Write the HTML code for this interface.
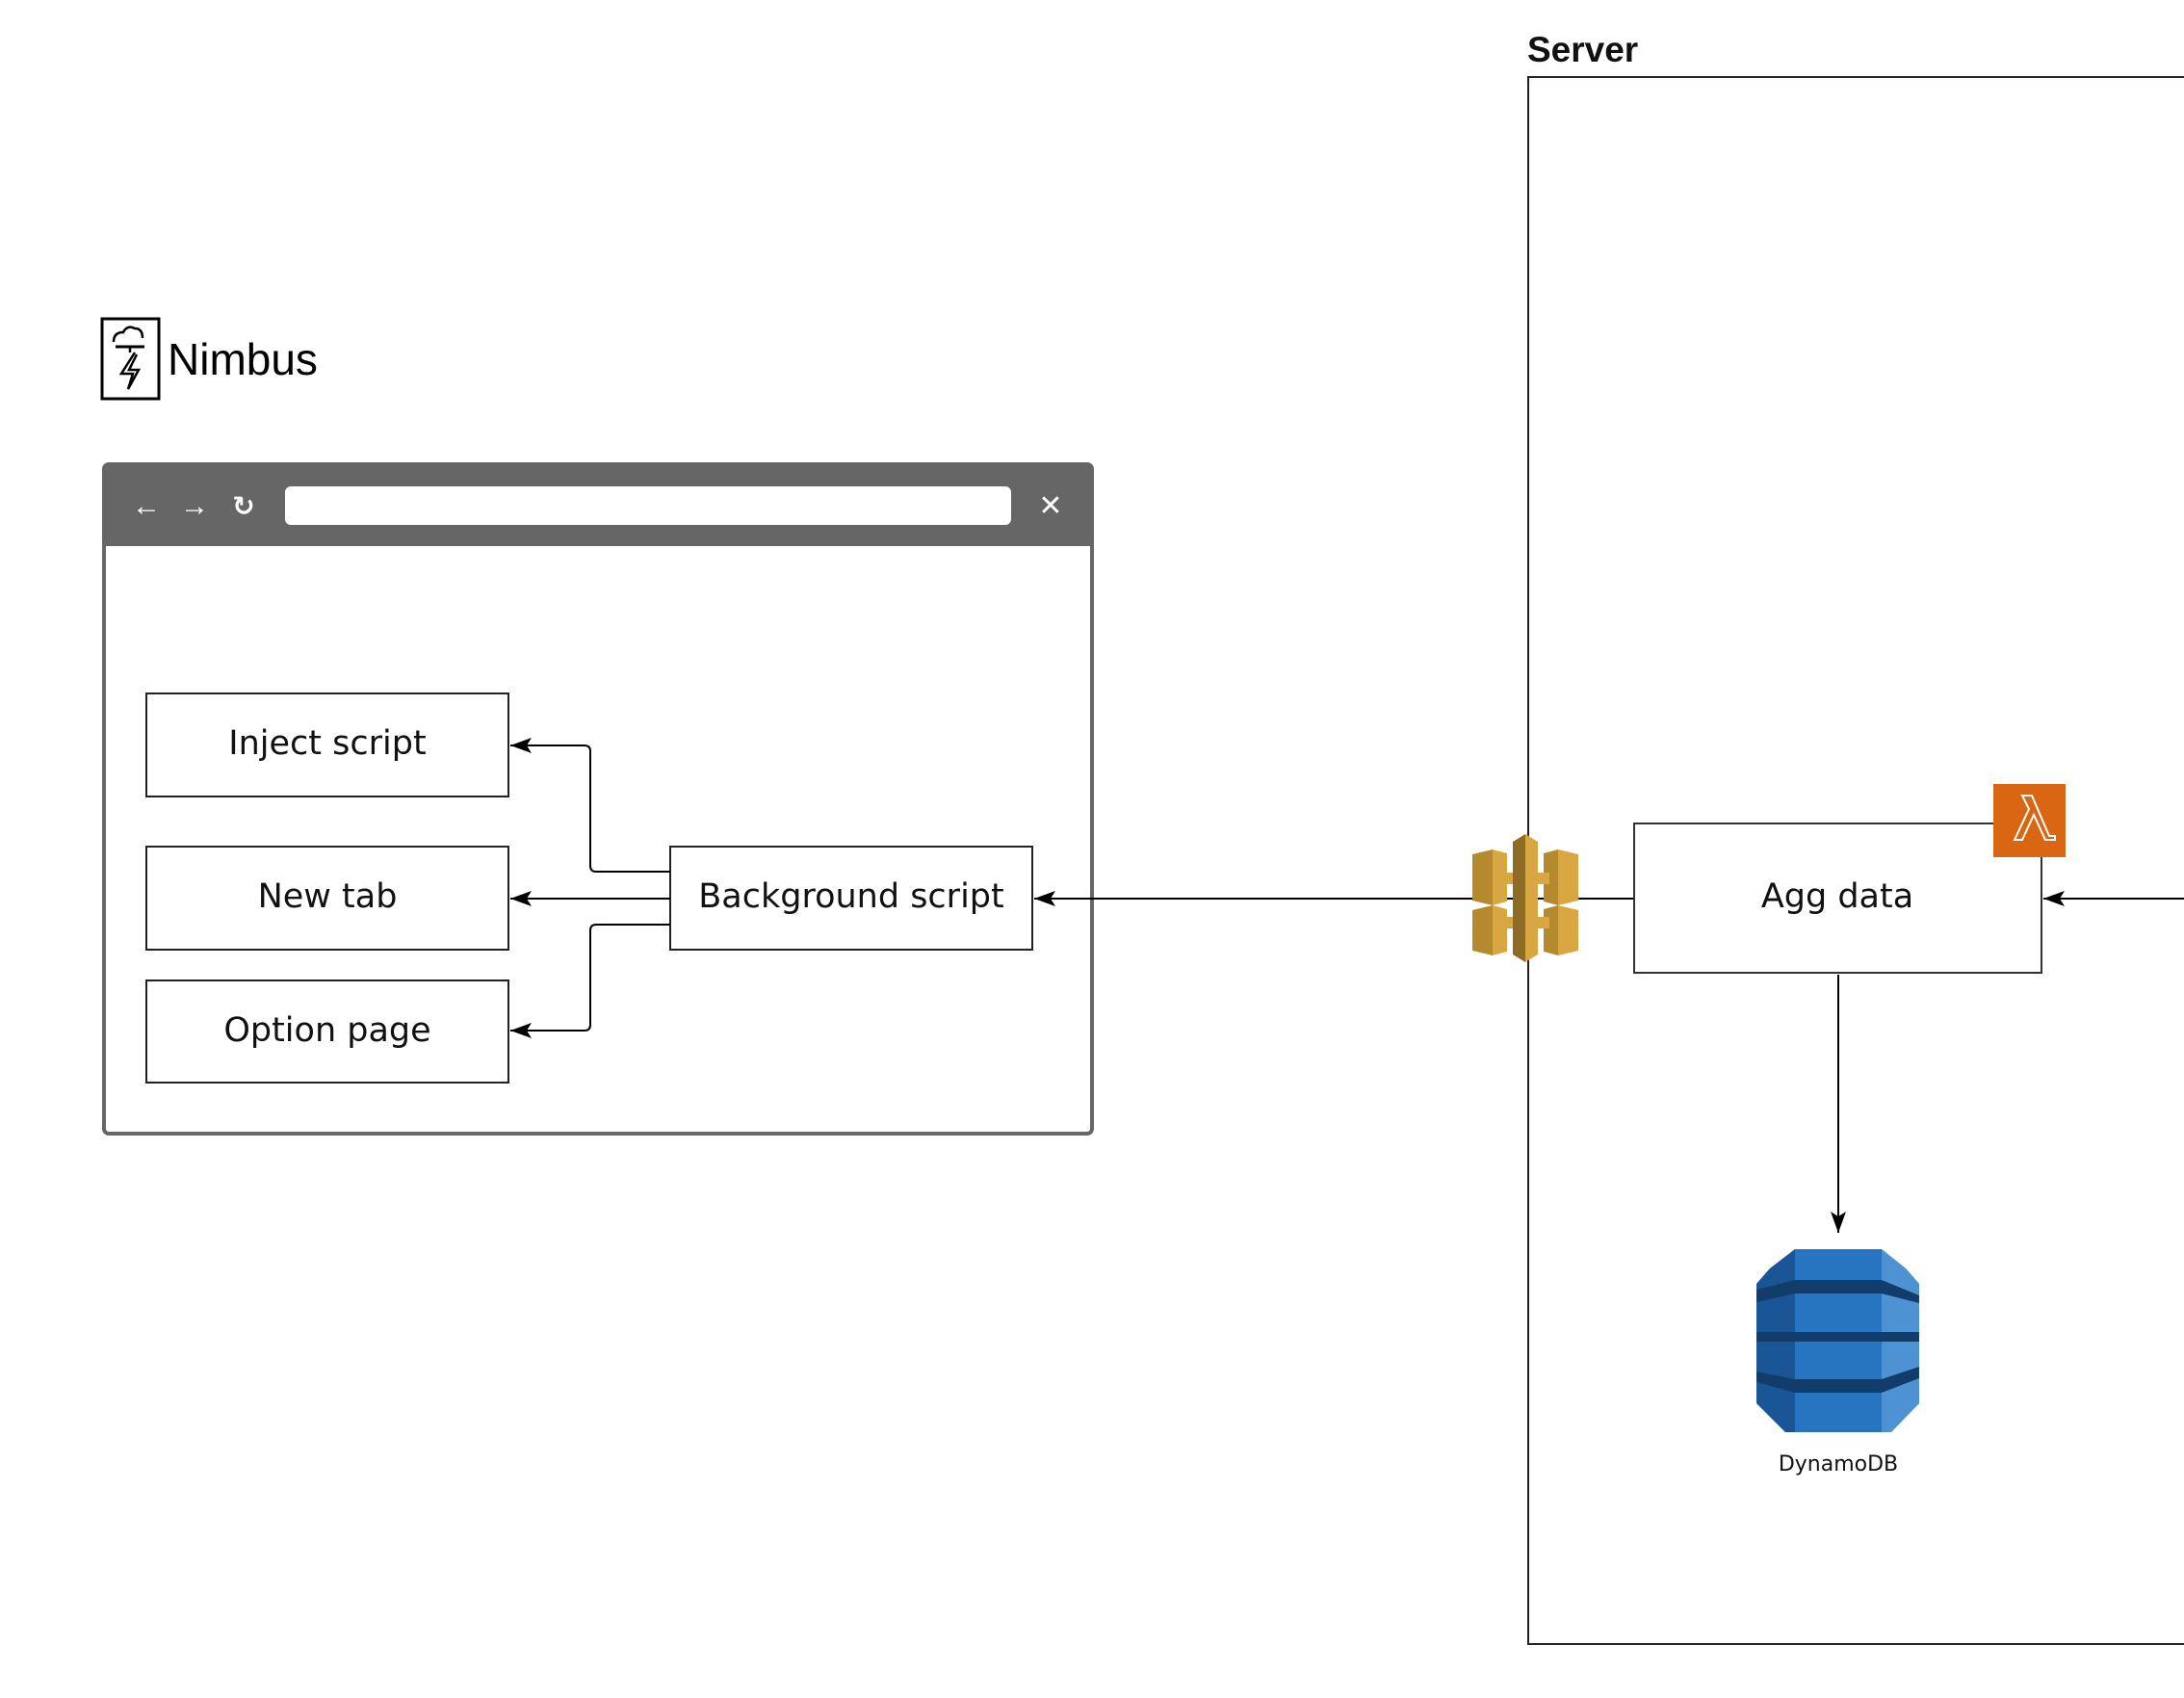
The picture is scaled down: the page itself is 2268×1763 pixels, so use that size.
<!DOCTYPE html>
<html><head><meta charset="utf-8"><style>
html,body{margin:0;padding:0;background:#fff;}
svg{display:block;}
text{font-family:"Liberation Sans","DejaVu Sans",sans-serif;}
.dv{font-family:"DejaVu Sans","Liberation Sans",sans-serif;}
</style></head><body>
<svg width="2268" height="1763" viewBox="0 0 2268 1763" xmlns="http://www.w3.org/2000/svg">
<defs>
<marker id="ar2" markerWidth="24" markerHeight="16" refX="22" refY="8" orient="auto" markerUnits="userSpaceOnUse">
<path d="M0,0 L22,8 L0,16 L5,8 z" fill="#000"/>
</marker>
</defs>

<!-- Server -->
<text x="1586" y="64" font-size="37" font-weight="bold" fill="#111">Server</text>
<rect x="1587" y="80" width="700" height="1627" fill="none" stroke="#222" stroke-width="2"/>

<!-- Nimbus logo -->
<rect x="106" y="331" width="59" height="83" fill="none" stroke="#000" stroke-width="3"/>
<path d="M118,355 q0,-10 10,-10 q4,-8 12,-4 q8,0 8,10" fill="none" stroke="#000" stroke-width="2.5"/>
<line x1="120" y1="360" x2="150" y2="360" stroke="#000" stroke-width="3"/>
<line x1="135" y1="360" x2="135" y2="366" stroke="#000" stroke-width="2.5"/>
<path d="M140,366 L126,388 L138,388 L133,404 L144,384 L134,384 L142,368" fill="none" stroke="#000" stroke-width="2.5"/>
<text x="174" y="389" font-size="46" fill="#000">Nimbus</text>

<!-- Browser -->
<rect x="108" y="482" width="1026" height="695" rx="5" fill="#fff" stroke="#666" stroke-width="4"/>
<path d="M108,567 L108,487 Q108,482 113,482 L1129,482 Q1134,482 1134,487 L1134,567 z" fill="#666"/>
<rect x="296" y="505" width="754" height="40" rx="6" fill="#fff"/>
<text x="152" y="535" font-size="30" font-weight="bold" fill="#fff" text-anchor="middle">←</text>
<text x="202" y="535" font-size="30" font-weight="bold" fill="#fff" text-anchor="middle">→</text>
<text x="253" y="535" font-size="28" font-weight="bold" fill="#fff" text-anchor="middle">↻</text>
<text x="1091" y="535" font-size="30" font-weight="bold" fill="#fff" text-anchor="middle">✕</text>

<!-- boxes -->
<g stroke="#222" stroke-width="2" fill="#fff">
<rect x="152" y="720" width="376" height="107"/>
<rect x="152" y="879" width="376" height="107"/>
<rect x="152" y="1018" width="376" height="106"/>
<rect x="696" y="879" width="376" height="107"/>
</g>
<g class="dv" font-size="35" fill="#111" text-anchor="middle">
<text class="dv" x="340" y="783">Inject script</text>
<text class="dv" x="340" y="942">New tab</text>
<text class="dv" x="340" y="1081">Option page</text>
<text class="dv" x="884" y="942">Background script</text>
</g>

<!-- connectors -->
<g fill="none" stroke="#000" stroke-width="2">
<path d="M696,905 L619,905 Q613,905 613,899 L613,780 Q613,774 607,774 L530,774" marker-end="url(#ar2)"/>
<path d="M696,933 L530,933" marker-end="url(#ar2)"/>
<path d="M696,960 L619,960 Q613,960 613,966 L613,1064 Q613,1070 607,1070 L530,1070" marker-end="url(#ar2)"/>
<path d="M1697,933 L1074,933" marker-end="url(#ar2)"/>
<path d="M2268,933 L2122,933" marker-end="url(#ar2)"/>
<path d="M1909,1012 L1909,1280" marker-end="url(#ar2)"/>
</g>

<!-- API gateway icon -->
<g transform="translate(1529,866)">
<polygon points="0,21 21,16 21,74 0,69" fill="#b5892e"/>
<polygon points="21,16 36,20 36,70 21,74" fill="#d9a741"/>
<polygon points="110,21 89,16 89,74 110,69" fill="#d9a741"/>
<polygon points="89,16 74,20 74,70 89,74" fill="#b5892e"/>
<polygon points="0,79 21,74 21,126 0,121" fill="#b5892e"/>
<polygon points="21,74 36,78 36,122 21,126" fill="#d9a741"/>
<polygon points="110,79 89,74 89,126 110,121" fill="#d9a741"/>
<polygon points="89,74 74,78 74,122 89,126" fill="#b5892e"/>
<rect x="30" y="40" width="50" height="12" fill="#d9a741"/>
<rect x="30" y="86" width="50" height="12" fill="#d9a741"/>
<polygon points="55,0 42,8 42,125 55,133" fill="#8e6c25"/>
<polygon points="55,0 68,8 68,125 55,133" fill="#d9a741"/>
</g>

<!-- Agg data -->
<rect x="1697" y="855" width="423" height="155" fill="#fff" stroke="#333" stroke-width="2"/>
<text class="dv" x="1908" y="942" font-size="35" fill="#111" text-anchor="middle">Agg data</text>
<rect x="2070" y="814" width="75" height="76" fill="#d86613"/>
<path d="M2092,872 L2107,840 L2100,826 L2110,826 L2128,868 L2134,868 L2134,872 L2124,872 L2112,846 L2100,872 z" fill="none" stroke="#fff" stroke-width="2"/>

<!-- DynamoDB -->
<g transform="translate(1824,1297)">
<polygon points="0,36 14,20 40,0 130,0 155,20 169,36 169,160 140,190 30,190 0,160" fill="#2775c0"/>
<polygon points="0,36 14,20 40,0 40,190 30,190 0,160" fill="#1a5596"/>
<polygon points="130,0 155,20 169,36 169,160 140,190 130,190" fill="#4d92d2"/>
<path d="M0,42 L40,32 L130,32 L169,48 L169,56 L130,46 L40,46 L0,55 z" fill="#123d6b"/>
<rect x="0" y="86" width="169" height="10" fill="#123d6b"/>
<path d="M0,127 L40,135 L130,135 L169,122 L169,134 L130,149 L40,149 L0,138 z" fill="#123d6b"/>
</g>
<text class="dv" x="1909" y="1527" font-size="22" fill="#111" text-anchor="middle">DynamoDB</text>
</svg>
</body></html>
